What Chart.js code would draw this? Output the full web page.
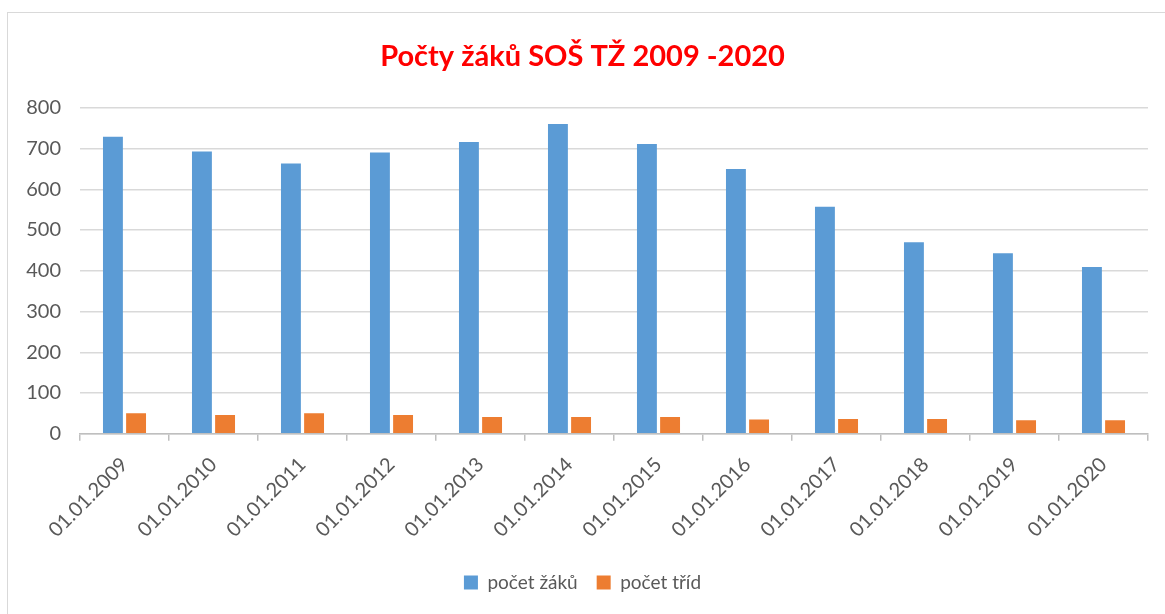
<!DOCTYPE html>
<html>
<head>
<meta charset="utf-8">
<script src="https://cdn.jsdelivr.net/npm/chart.js@4.4.0/dist/chart.umd.min.js"></script>
<style>
  html, body { margin: 0; padding: 0; background: #ffffff; }
  #wrap { position: relative; width: 1165px; height: 614px; overflow: hidden; }
  #frame { position: absolute; left: 7px; top: 12px; width: 1200px; height: 700px;
           border: 1px solid #d9d9d9; box-sizing: border-box; pointer-events: none; }
  canvas { position: absolute; left: 0; top: 0; }
</style>
</head>
<body>
<div id="wrap">
  <canvas id="c" width="1165" height="614"></canvas>
  <div id="frame"></div>
</div>
<script>
const categories = ["01.01.2009","01.01.2010","01.01.2011","01.01.2012","01.01.2013","01.01.2014",
                    "01.01.2015","01.01.2016","01.01.2017","01.01.2018","01.01.2019","01.01.2020"];
const pocetZaku = [729, 693, 663, 690, 716, 760, 711, 650, 557, 470, 443, 409];
const pocetTrid = [50, 46, 50, 46, 41, 41, 41, 35, 36, 36, 33, 33];
const seriesNames = ["počet žáků", "počet tříd"];
const yTicks = [0, 100, 200, 300, 400, 500, 600, 700, 800];

const FONT = "Lato, 'Open Sans', sans-serif";
const GRAY = "#595959";

new Chart(document.getElementById("c"), {
  type: "bar",
  data: {
    labels: categories,
    datasets: [
      { label: seriesNames[0], data: pocetZaku, backgroundColor: "#5b9bd5",
        categoryPercentage: 0.52, barPercentage: 0.86 },
      { label: seriesNames[1], data: pocetTrid, backgroundColor: "#ed7d31",
        categoryPercentage: 0.52, barPercentage: 0.86 }
    ]
  },
  options: {
    responsive: false,
    animation: false,
    layout: { padding: { left: 17, right: 17, top: 31, bottom: 12 } },
    plugins: {
      title: {
        display: true,
        text: "Počty žáků SOŠ TŽ 2009 -2020",
        color: "#ff0000",
        font: { family: FONT, size: 29, weight: "bold" },
        padding: { top: 8, bottom: 34 }
      },
      legend: {
        position: "bottom",
        labels: {
          color: GRAY,
          font: { family: FONT, size: 19 },
          boxWidth: 14, boxHeight: 14,
          padding: 19
        }
      },
      tooltip: { enabled: false }
    },
    scales: {
      x: {
        grid: { display: true, drawOnChartArea: false, offset: true, color: "#bfbfbf",
                tickLength: 7, lineWidth: 1.5 },
        border: { display: true, color: "#bfbfbf", width: 1.5 },
        ticks: { color: GRAY, font: { family: FONT, size: 20 },
                 maxRotation: 45, minRotation: 45, padding: 12 }
      },
      y: {
        min: 0, max: 800,
        afterFit: (s) => { s.width = 63; },
        afterBuildTicks: (s) => { s.ticks = yTicks.map(v => ({ value: v })); },
        grid: { color: "#d9d9d9", lineWidth: 1.5, drawTicks: false },
        border: { display: false },
        ticks: { color: GRAY, font: { family: FONT, size: 20 }, padding: 19 }
      }
    }
  }
});
</script>
</body>
</html>
